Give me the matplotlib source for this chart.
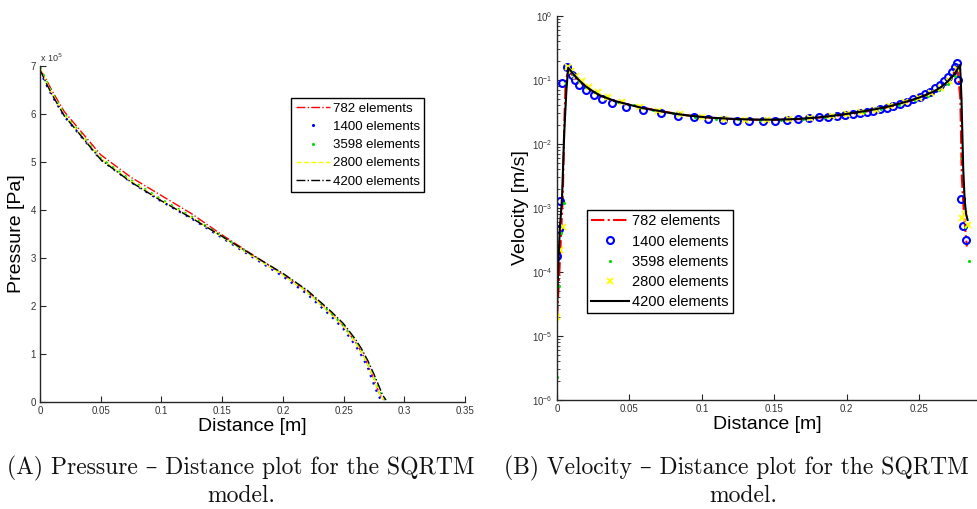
import matplotlib
matplotlib.use("Agg")
import matplotlib.pyplot as plt
from matplotlib.lines import Line2D
import numpy as np

plt.rcParams['font.family'] = ['Liberation Sans', 'DejaVu Sans']

# ---------------- Pressure data (Pa, x1e5) ----------------
p_x_782 = [0, 0.005, 0.01, 0.02, 0.03, 0.05, 0.075, 0.1, 0.125, 0.15, 0.175, 0.2, 0.22, 0.24, 0.25, 0.26, 0.265, 0.27, 0.274, 0.277, 0.28, 0.283]
p_y_782 = [6.93, 6.72, 6.48, 6.05, 5.75, 5.15, 4.68, 4.30, 3.92, 3.48, 3.07, 2.66, 2.30, 1.84, 1.58, 1.24, 1.03, 0.78, 0.54, 0.34, 0.15, 0.05]
p_x_1400 = [0, 0.005, 0.01, 0.02, 0.03, 0.05, 0.075, 0.1, 0.125, 0.15, 0.175, 0.2, 0.22, 0.24, 0.25, 0.26, 0.265, 0.27, 0.273, 0.276, 0.279, 0.281]
p_y_1400 = [6.90, 6.62, 6.38, 5.95, 5.65, 5.05, 4.58, 4.18, 3.82, 3.42, 3.02, 2.62, 2.25, 1.78, 1.52, 1.17, 0.96, 0.72, 0.50, 0.30, 0.12, 0.04]
p_x_3598 = [0, 0.005, 0.01, 0.02, 0.03, 0.05, 0.075, 0.1, 0.125, 0.15, 0.175, 0.2, 0.22, 0.24, 0.25, 0.26, 0.265, 0.27, 0.274, 0.278, 0.281, 0.284]
p_y_3598 = [6.98, 6.70, 6.44, 6.00, 5.70, 5.08, 4.62, 4.22, 3.86, 3.45, 3.05, 2.66, 2.30, 1.84, 1.59, 1.25, 1.05, 0.80, 0.57, 0.33, 0.14, 0.04]
p_x_2800 = [0, 0.005, 0.01, 0.02, 0.03, 0.05, 0.075, 0.1, 0.125, 0.15, 0.175, 0.2, 0.22, 0.24, 0.25, 0.26, 0.265, 0.27, 0.274, 0.277, 0.28, 0.283]
p_y_2800 = [6.95, 6.68, 6.42, 5.98, 5.68, 5.07, 4.60, 4.20, 3.84, 3.44, 3.04, 2.65, 2.29, 1.83, 1.58, 1.23, 1.03, 0.78, 0.55, 0.35, 0.15, 0.05]
p_x_4200 = [0, 0.005, 0.01, 0.02, 0.03, 0.05, 0.075, 0.1, 0.125, 0.15, 0.175, 0.2, 0.22, 0.24, 0.25, 0.26, 0.265, 0.27, 0.275, 0.279, 0.282, 0.285]
p_y_4200 = [6.92, 6.65, 6.40, 5.96, 5.66, 5.05, 4.58, 4.19, 3.83, 3.45, 3.06, 2.68, 2.33, 1.88, 1.63, 1.30, 1.10, 0.86, 0.58, 0.34, 0.15, 0.04]

# ---------------- Velocity data (m/s) ----------------
v_x_782 = [0, 0.002, 0.003, 0.004, 0.005, 0.006, 0.008, 0.012, 0.016, 0.02, 0.03, 0.04, 0.05, 0.07, 0.09, 0.11, 0.13, 0.15, 0.17, 0.19, 0.21, 0.23, 0.25, 0.26, 0.27, 0.2765, 0.2785, 0.2795, 0.281, 0.283]
v_y_782 = [1.8e-5, 1.5e-4, 5e-4, 1.5e-3, 0.02, 0.10, 0.14, 0.11, 0.092, 0.078, 0.057, 0.047, 0.041, 0.033, 0.028, 0.0252, 0.024, 0.0238, 0.0245, 0.027, 0.031, 0.038, 0.052, 0.064, 0.092, 0.16, 0.05, 3e-3, 8e-4, 2.5e-4]
v_x_1400 = [0.0, 0.0015, 0.002, 0.0032, 0.0067, 0.0101, 0.0124, 0.0154, 0.0200, 0.0256, 0.0309, 0.0378, 0.0477, 0.0596, 0.0718, 0.0838, 0.0946, 0.1045, 0.1144, 0.1241, 0.1328, 0.1420, 0.1506, 0.1586, 0.1667, 0.1743, 0.1812, 0.1874, 0.1932, 0.1989, 0.2042, 0.2093, 0.2139, 0.2185, 0.2231, 0.2277, 0.2323, 0.2369, 0.2415, 0.2461, 0.2507, 0.2542, 0.2576, 0.2611, 0.2645, 0.2675, 0.2702, 0.2727, 0.2749, 0.2765, 0.2772, 0.2788, 0.2806, 0.2822]
v_y_1400 = [1.8e-4, 4.7e-4, 1.3e-3, 0.0888, 0.161, 0.120, 0.100, 0.0835, 0.0698, 0.0583, 0.0499, 0.0442, 0.0383, 0.0340, 0.0302, 0.0274, 0.0261, 0.0246, 0.0237, 0.0232, 0.0229, 0.0232, 0.0232, 0.0237, 0.0243, 0.0251, 0.0261, 0.0267, 0.0277, 0.0288, 0.0298, 0.0309, 0.0320, 0.0333, 0.0348, 0.0368, 0.0393, 0.0423, 0.0458, 0.0500, 0.0550, 0.0600, 0.0660, 0.0740, 0.0835, 0.0960, 0.113, 0.135, 0.161, 0.186, 0.100, 1.4e-3, 5.2e-4, 3.2e-4]
v_x_3598 = [0.0, 0.0015, 0.003, 0.0045, 0.006, 0.008, 0.011, 0.015, 0.02, 0.026, 0.033, 0.042, 0.053, 0.066, 0.08, 0.095, 0.11, 0.125, 0.14, 0.155, 0.17, 0.185, 0.2, 0.212, 0.224, 0.236, 0.247, 0.256, 0.264, 0.27, 0.2745, 0.2775, 0.2795, 0.2815, 0.2846]
v_y_3598 = [2.3e-6, 6e-5, 4e-4, 1.2e-3, 0.09, 0.15, 0.125, 0.098, 0.079, 0.064, 0.054, 0.046, 0.040, 0.034, 0.030, 0.0268, 0.0250, 0.0242, 0.0238, 0.0240, 0.0248, 0.0262, 0.0290, 0.0318, 0.0353, 0.0405, 0.0480, 0.0570, 0.0700, 0.0860, 0.115, 0.165, 0.006, 5e-4, 1.5e-4]
v_x_2800 = [0.0, 0.002, 0.004, 0.0075, 0.01, 0.013, 0.017, 0.022, 0.028, 0.035, 0.045, 0.057, 0.07, 0.085, 0.1, 0.115, 0.13, 0.145, 0.16, 0.175, 0.19, 0.2, 0.21, 0.22, 0.23, 0.24, 0.25, 0.258, 0.265, 0.271, 0.276, 0.2795, 0.2815, 0.2835]
v_y_2800 = [2e-5, 2.2e-4, 5e-4, 0.16, 0.14, 0.115, 0.095, 0.078, 0.065, 0.054, 0.045, 0.038, 0.033, 0.029, 0.0265, 0.025, 0.024, 0.024, 0.0245, 0.0255, 0.0275, 0.029, 0.0315, 0.0345, 0.039, 0.045, 0.053, 0.062, 0.076, 0.098, 0.15, 7e-4, 8e-4, 5.4e-4]
v_x_4200 = [0, 0.001, 0.002, 0.003, 0.0035, 0.005, 0.0065, 0.0077, 0.01, 0.0125, 0.015, 0.02, 0.025, 0.03, 0.04, 0.05, 0.06, 0.07, 0.08, 0.09, 0.1, 0.11, 0.12, 0.13, 0.14, 0.15, 0.16, 0.17, 0.18, 0.19, 0.2, 0.21, 0.22, 0.23, 0.24, 0.25, 0.255, 0.26, 0.265, 0.27, 0.2745, 0.2783, 0.2793, 0.2805, 0.2815, 0.2825, 0.2835]
v_y_4200 = [2.5e-5, 1.5e-4, 5e-4, 1e-3, 1.5e-3, 0.015, 0.07, 0.155, 0.135, 0.115, 0.1, 0.079, 0.066, 0.057, 0.047, 0.041, 0.036, 0.033, 0.030, 0.028, 0.0265, 0.0255, 0.0248, 0.0243, 0.024, 0.024, 0.0243, 0.025, 0.026, 0.0275, 0.0295, 0.032, 0.035, 0.039, 0.045, 0.053, 0.059, 0.066, 0.077, 0.096, 0.125, 0.172, 0.05, 4e-3, 1.3e-3, 8e-4, 6.5e-4]

labels = ['782 elements', '1400 elements', '3598 elements', '2800 elements', '4200 elements']

W, H = 977, 509
fig = plt.figure(figsize=(W / 100, H / 100), dpi=100)

def ax_rect(x0, y0, x1, y1):
    return [x0 / W, 1 - y1 / H, (x1 - x0) / W, (y1 - y0) / H]

spine_col = '#262626'
tick_col = '#333333'

def style(ax):
    for s in ['top', 'right']:
        ax.spines[s].set_visible(False)
    for s in ['left', 'bottom']:
        ax.spines[s].set_color(spine_col)
        ax.spines[s].set_linewidth(1.0)
    ax.tick_params(direction='in', labelsize=7, colors=spine_col, labelcolor=tick_col, length=4, width=0.8, pad=3)
    ax.tick_params(which='minor', direction='in', length=2, width=0.6, colors=spine_col)

# ---------------- Left: pressure ----------------
ax1 = fig.add_axes(ax_rect(40, 66, 465, 402))
style(ax1)
ax1.plot(p_x_782, np.array(p_y_782) * 1e5, color='red', ls='-.', lw=1.0)
ax1.plot(p_x_1400, np.array(p_y_1400) * 1e5, color='blue', ls=(0, (1, 2.5)), lw=1.6)
ax1.plot(p_x_3598, np.array(p_y_3598) * 1e5, color='#00dd00', ls=(0, (1, 2.5)), lw=1.6)
ax1.plot(p_x_2800, np.array(p_y_2800) * 1e5, color='yellow', ls='--', lw=1.0)
ax1.plot(p_x_4200, np.array(p_y_4200) * 1e5, color='black', ls='-.', lw=1.0)
ax1.set_xlim(0, 0.35)
ax1.set_ylim(0, 7e5)
ax1.set_xticks([0, 0.05, 0.1, 0.15, 0.2, 0.25, 0.3, 0.35])
ax1.set_xticklabels(['0', '0.05', '0.1', '0.15', '0.2', '0.25', '0.3', '0.35'])
ax1.set_yticks([i * 1e5 for i in range(8)])
ax1.set_yticklabels([str(i) for i in range(8)])
fig.text(40 / W, 1 - 58 / H, r'x 10$^{5}$', fontsize=6.5, color=tick_col, va='center', ha='left')
ax1.set_xlabel('Distance [m]', fontsize=14, labelpad=1)
ax1.set_ylabel('Pressure [Pa]', fontsize=14, labelpad=4)

h1 = [Line2D([], [], color='red', ls='-.', lw=1.0),
      Line2D([], [], color='blue', ls='none', marker='.', ms=2.5),
      Line2D([], [], color='#00dd00', ls='none', marker='.', ms=2.5),
      Line2D([], [], color='yellow', ls='--', lw=1.0),
      Line2D([], [], color='black', ls='-.', lw=1.0)]
leg1 = ax1.legend(h1, labels, loc='upper left', bbox_to_anchor=((291 - 40) / 425, (402 - 98) / 336),
                  fontsize=9.5, frameon=True, fancybox=False, edgecolor='black', framealpha=1,
                  borderpad=0.35, labelspacing=0.45, handlelength=2.6, handletextpad=0.2, borderaxespad=0)
leg1.get_frame().set_linewidth(1.0)

# ---------------- Right: velocity ----------------
ax2 = fig.add_axes(ax_rect(557, 16, 977, 400))
style(ax2)
ax2.set_yscale('log')
ax2.plot(v_x_782, v_y_782, color='red', ls='-.', lw=1.5)
ax2.plot(v_x_1400, v_y_1400, color='blue', ls='none', marker='o', ms=5, mfc='none', mew=1.5)
ax2.plot(v_x_3598, v_y_3598, color='#00dd00', ls='none', marker='.', ms=2.5)
ax2.plot(v_x_2800, v_y_2800, color='yellow', ls='none', marker='x', ms=4, mew=1.3)
ax2.plot(v_x_4200, v_y_4200, color='black', ls='-', lw=1.5)
ax2.set_xlim(0, 0.29)
ax2.set_ylim(1e-6, 1)
ax2.set_xticks([0, 0.05, 0.1, 0.15, 0.2, 0.25])
ax2.set_xticklabels(['0', '0.05', '0.1', '0.15', '0.2', '0.25'])
ax2.set_xlabel('Distance [m]', fontsize=14, labelpad=1)
ax2.set_ylabel('Velocity [m/s]', fontsize=14, labelpad=2)

h2 = [Line2D([], [], color='red', ls='-.', lw=1.5),
      Line2D([], [], color='blue', ls='none', marker='o', ms=5, mfc='none', mew=1.5),
      Line2D([], [], color='#00dd00', ls='none', marker='.', ms=2.5),
      Line2D([], [], color='yellow', ls='none', marker='x', ms=4, mew=1.3),
      Line2D([], [], color='black', ls='-', lw=1.5)]
leg2 = ax2.legend(h2, labels, loc='upper left', bbox_to_anchor=((587 - 557) / 420, (400 - 210) / 384),
                  fontsize=10.5, frameon=True, fancybox=False, edgecolor='black', framealpha=1,
                  borderpad=0.3, labelspacing=0.42, handlelength=2.6, handletextpad=0.2, borderaxespad=0)
leg2.get_frame().set_linewidth(1.0)

# ---------------- Captions ----------------
cap = dict(fontsize=17, family=['cmr10', 'DejaVu Serif'], ha='center', va='center', color='#111111')
fig.text(241 / W, 1 - 468 / H, '(A) Pressure – Distance plot for the SQRTM', **cap)
fig.text(241 / W, 1 - 496 / H, 'model.', **cap)
fig.text(736 / W, 1 - 468 / H, '(B) Velocity – Distance plot for the SQRTM', **cap)
fig.text(743 / W, 1 - 496 / H, 'model.', **cap)

fig.savefig('out.png', dpi=100)
